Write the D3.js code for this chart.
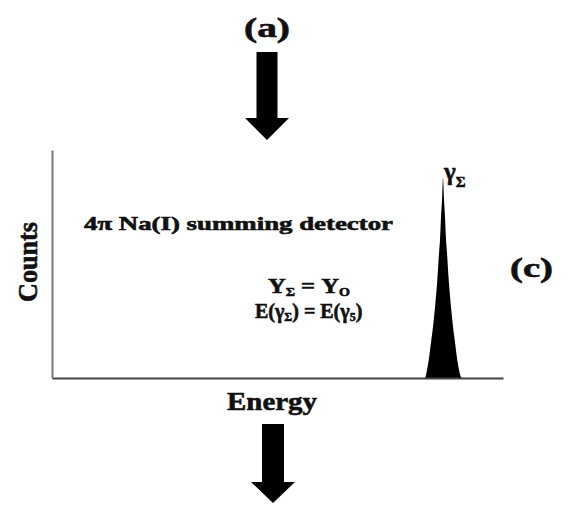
<!DOCTYPE html>
<html>
<head>
<meta charset="utf-8">
<script src="https://cdn.jsdelivr.net/npm/d3@7"></script>
<style>
  body { margin: 0; background: #fff; }
  text { font-family: "Liberation Serif", "DejaVu Serif", serif; font-weight: bold; fill: #111; stroke: #111; stroke-width: 0.6px; }
</style>
</head>
<body>
<div id="chart"></div>
<script>
// spectrum: one full-energy sum peak, nothing else
var energy = [0, 82.7, 83.15, 83.6, 84.05, 84.5, 84.95, 85.4, 85.8, 86.05, 86.25, 86.5, 86.7,
              86.9, 87.15, 87.35, 87.6, 88.0, 88.45, 88.9, 89.35, 89.8, 90.25, 90.9, 100];
var counts = [0, 0, 4, 10, 18, 26, 36, 48, 62, 70, 80, 90, 100,
              90, 80, 70, 62, 48, 36, 26, 18, 10, 4, 0, 0];

var width = 568,
    height = 512,
    margin = {top: 150, right: 65, bottom: 134, left: 52};

var svg = d3.select("#chart").append("svg")
    .attr("width", width)
    .attr("height", height);

var x = d3.scaleLinear()
    .domain([0, 100])
    .range([margin.left, width - margin.right]);

var y = d3.scaleLinear()
    .domain([0, 114])
    .range([height - margin.bottom, margin.top]);

var pts = energy.map(function(e, i) { return [e, counts[i]]; });

var area = d3.area()
    .x(function(d) { return x(d[0]); })
    .y0(y(0))
    .y1(function(d) { return y(d[1]); })
    .curve(d3.curveMonotoneX);

svg.append("path")
    .datum(pts)
    .attr("fill", "#000")
    .attr("d", area);

// axes: plain lines, no ticks
svg.append("g")
    .attr("transform", "translate(0," + y(0) + ")")
    .call(d3.axisBottom(x).tickValues([]).tickSizeOuter(0))
  .select(".domain")
    .attr("stroke", "#444")
    .attr("stroke-width", 2);

svg.append("g")
    .attr("transform", "translate(" + x(0) + ",0)")
    .call(d3.axisLeft(y).tickValues([]).tickSizeOuter(0))
  .select(".domain")
    .attr("stroke", "#777")
    .attr("stroke-width", 2);

// axis titles
svg.append("text")
    .attr("x", 227)
    .attr("y", 410)
    .attr("textLength", 90)
    .attr("lengthAdjust", "spacingAndGlyphs")
    .style("font-size", "26px")
    .text("Energy");

svg.append("text")
    .attr("transform", "translate(37,302) rotate(-90)")
    .attr("textLength", 80)
    .attr("lengthAdjust", "spacingAndGlyphs")
    .style("font-size", "27px")
    .text("Counts");

// annotations
svg.append("text")
    .attr("x", 84)
    .attr("y", 230)
    .attr("textLength", 309)
    .attr("lengthAdjust", "spacingAndGlyphs")
    .style("font-size", "19px")
    .text("4\u03c0 Na(I) summing detector");

var l1 = svg.append("text")
    .attr("x", 268)
    .attr("y", 293)
    .attr("textLength", 82)
    .attr("lengthAdjust", "spacingAndGlyphs")
    .style("font-size", "21px");
l1.append("tspan").text("Y");
l1.append("tspan").attr("dy", 3).style("font-size", "12px").text("\u03a3");
l1.append("tspan").attr("dy", -3).text(" = Y");
l1.append("tspan").attr("dy", 3).style("font-size", "12px").text("O");

var l2 = svg.append("text")
    .attr("x", 255)
    .attr("y", 318)
    .style("font-size", "20px");
l2.append("tspan").text("E(\u03b3");
l2.append("tspan").attr("dy", 3).style("font-size", "12px").text("\u03a3");
l2.append("tspan").attr("dy", -3).text(") = E(\u03b3");
l2.append("tspan").attr("dy", 3).style("font-size", "12px").text("5");
l2.append("tspan").attr("dy", -3).text(")");

var pk = svg.append("text")
    .attr("x", 444)
    .attr("y", 180)
    .style("font-size", "25px");
pk.append("tspan").text("\u03b3");
pk.append("tspan").attr("dy", 7).style("font-size", "15px").text("\u03a3");

svg.append("text")
    .attr("x", 244)
    .attr("y", 37)
    .attr("textLength", 46)
    .attr("lengthAdjust", "spacingAndGlyphs")
    .style("font-size", "27px")
    .text("(a)");

svg.append("text")
    .attr("x", 510)
    .attr("y", 277)
    .attr("textLength", 43)
    .attr("lengthAdjust", "spacingAndGlyphs")
    .style("font-size", "27px")
    .text("(c)");

// flow arrows above and below the panel
var arrows = [
  {cx: 267, top: 52, neck: 118, tip: 140, shaft: 21, head: 44},
  {cx: 273, top: 424, neck: 482, tip: 503, shaft: 22, head: 44}
];

svg.selectAll("path.arrow")
    .data(arrows)
  .enter().append("path")
    .attr("class", "arrow")
    .attr("fill", "#000")
    .attr("d", function(a) {
      var s = a.shaft / 2, h = a.head / 2;
      return "M" + (a.cx - s) + "," + a.top +
             "L" + (a.cx + s) + "," + a.top +
             "L" + (a.cx + s) + "," + a.neck +
             "L" + (a.cx + h) + "," + a.neck +
             "L" + a.cx + "," + a.tip +
             "L" + (a.cx - h) + "," + a.neck +
             "L" + (a.cx - s) + "," + a.neck + "Z";
    });
</script>
</body>
</html>
